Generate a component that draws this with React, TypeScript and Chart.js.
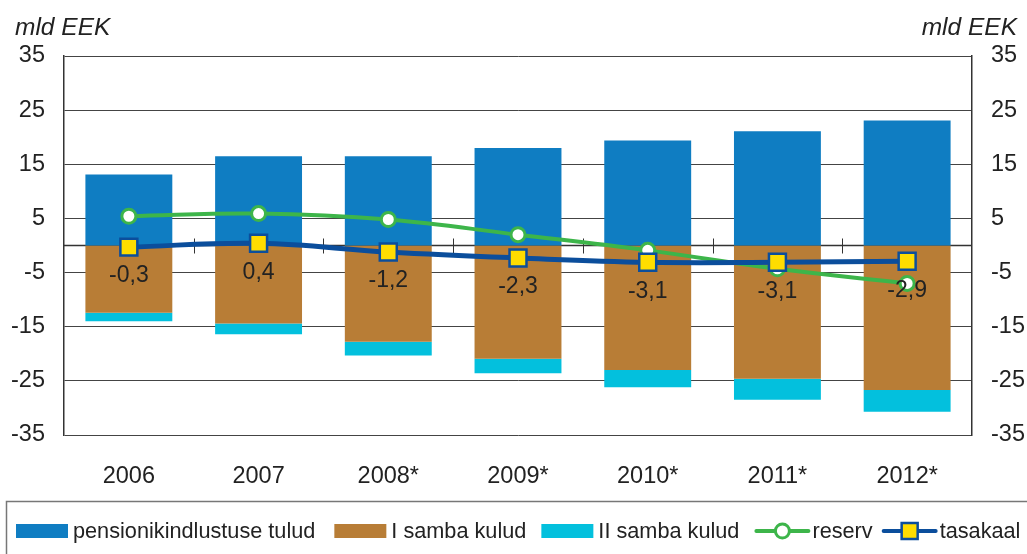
import { useEffect, useRef } from "react";
import { Chart, registerables } from "chart.js";

Chart.register(...registerables);

// ---- data ----
const categories = ["2006", "2007", "2008*", "2009*", "2010*", "2011*", "2012*"];
const revenue = [13.1, 16.5, 16.5, 18.0, 19.4, 21.1, 23.1];
const pillarOneCosts = [-12.4, -14.4, -17.8, -20.9, -23.0, -24.6, -26.7];
const pillarTwoCosts = [-1.6, -2.0, -2.5, -2.7, -3.2, -3.9, -4.0];
const reserve = [5.4, 5.9, 4.8, 2.0, -0.9, -4.3, -7.0];
const balance = [-0.3, 0.4, -1.2, -2.3, -3.1, -3.1, -2.9];
const seriesNames = ["pensionikindlustuse tulud", "I samba kulud", "II samba kulud", "reserv", "tasakaal"];
const unitLabel = "mld EEK";
const axisMin = -35;
const axisMax = 35;
const axisStep = 10;

const FONT = '"Liberation Sans", Arial, Helvetica, sans-serif';
const C_BLUE = "#0F7DC2";
const C_BROWN = "#B87D36";
const C_CYAN = "#03C0DD";
const C_GREEN = "#3DB54A";
const C_NAVY = "#0B4E9C";
const C_YELLOW = "#FFDD00";

const fmt = (v: number) => v.toFixed(1).replace(".", ",");

const decorPlugin = {
  id: "decor",
  beforeDatasetsDraw(chart: any) {
    const { ctx, chartArea } = chart;
    const y = chart.scales.y;
    const x = chart.scales.x;
    const y0 = y.getPixelForValue(0);
    ctx.save();
    ctx.strokeStyle = "#333";
    ctx.lineWidth = 1.5;
    ctx.beginPath();
    ctx.moveTo(chartArea.left, y0);
    ctx.lineTo(chartArea.right, y0);
    ctx.stroke();
    ctx.lineWidth = 1;
    for (let i = 1; i < categories.length; i++) {
      const px = Math.round((x.getPixelForValue(i - 1) + x.getPixelForValue(i)) / 2) + 0.5;
      ctx.beginPath();
      ctx.moveTo(px, y0 - 7);
      ctx.lineTo(px, y0 + 8);
      ctx.stroke();
    }
    ctx.restore();
  },
  afterDatasetsDraw(chart: any) {
    const { ctx } = chart;
    const idx = chart.data.datasets.findIndex((d: any) => d.label === seriesNames[4]);
    const meta = chart.getDatasetMeta(idx);
    ctx.save();
    ctx.font = `23px ${FONT}`;
    ctx.fillStyle = "#222";
    ctx.textAlign = "center";
    ctx.textBaseline = "middle";
    meta.data.forEach((pt: any, i: number) => {
      ctx.fillText(fmt(balance[i]), pt.x, pt.y + 29);
    });
    ctx.restore();
  },
  afterDraw(chart: any) {
    const { ctx, width, height } = chart;
    ctx.save();
    // unit titles
    ctx.font = `italic 24.5px ${FONT}`;
    ctx.fillStyle = "#222";
    ctx.textBaseline = "alphabetic";
    ctx.textAlign = "left";
    ctx.fillText(unitLabel, 15, 35);
    ctx.textAlign = "right";
    ctx.fillText(unitLabel, width - 10, 35);

    // legend frame
    const top = height - 53;
    ctx.strokeStyle = "#777";
    ctx.lineWidth = 1.5;
    ctx.strokeRect(6.5, top + 0.5, width + 20, 100);

    const cy = top + 30;
    ctx.font = `21.7px ${FONT}`;
    ctx.textAlign = "left";
    ctx.textBaseline = "middle";
    const items = [
      { kind: "bar", color: C_BLUE, gap: 19 },
      { kind: "bar", color: C_BROWN, gap: 15 },
      { kind: "bar", color: C_CYAN, gap: 15 },
      { kind: "circle", color: C_GREEN, gap: 9 },
      { kind: "square", color: C_NAVY, gap: 0 },
    ];
    let x = 16;
    items.forEach((it, i) => {
      if (it.kind === "bar") {
        ctx.fillStyle = it.color;
        ctx.fillRect(x, cy - 7, 52, 14);
        x += 57;
      } else {
        ctx.strokeStyle = it.color;
        ctx.lineWidth = 4;
        ctx.lineCap = "round";
        ctx.beginPath();
        ctx.moveTo(x + 2, cy);
        ctx.lineTo(x + 54, cy);
        ctx.stroke();
        const mx = x + 28;
        if (it.kind === "circle") {
          ctx.fillStyle = "#fff";
          ctx.lineWidth = 3;
          ctx.beginPath();
          ctx.arc(mx, cy, 7, 0, Math.PI * 2);
          ctx.fill();
          ctx.stroke();
        } else {
          ctx.fillStyle = C_YELLOW;
          ctx.lineWidth = 2.5;
          ctx.fillRect(mx - 8, cy - 8, 16, 16);
          ctx.strokeRect(mx - 8, cy - 8, 16, 16);
        }
        x += 58;
      }
      ctx.fillStyle = "#222";
      ctx.fillText(seriesNames[i], x, cy + 1);
      x += ctx.measureText(seriesNames[i]).width + it.gap;
    });
    ctx.restore();
  },
};

export default function App() {
  const ref = useRef<HTMLCanvasElement | null>(null);

  useEffect(() => {
    document.body.style.margin = "0";
    if (!ref.current) return;
    const tickFont = { family: FONT, size: 23.5 };
    const chart = new Chart(ref.current, {
      type: "bar",
      data: {
        labels: categories,
        datasets: [
          {
            type: "line",
            label: seriesNames[4],
            data: balance,
            borderColor: C_NAVY,
            borderWidth: 5,
            tension: 0.4,
            pointStyle: "rect",
            pointRadius: 12,
            pointBackgroundColor: C_YELLOW,
            pointBorderColor: C_NAVY,
            pointBorderWidth: 2.5,
            stack: "s-balance",
            order: 0,
          } as any,
          {
            type: "line",
            label: seriesNames[3],
            data: reserve,
            borderColor: C_GREEN,
            borderWidth: 4,
            tension: 0.4,
            pointStyle: "circle",
            pointRadius: 7,
            pointBackgroundColor: "#fff",
            pointBorderColor: C_GREEN,
            pointBorderWidth: 3,
            stack: "s-reserve",
            order: 1,
          } as any,
          {
            label: seriesNames[0],
            data: revenue,
            backgroundColor: C_BLUE,
            stack: "bars",
            order: 2,
          },
          {
            label: seriesNames[1],
            data: pillarOneCosts,
            backgroundColor: C_BROWN,
            stack: "bars",
            order: 2,
          },
          {
            label: seriesNames[2],
            data: pillarTwoCosts,
            backgroundColor: C_CYAN,
            stack: "bars",
            order: 2,
          },
        ],
      },
      options: {
        responsive: false,
        maintainAspectRatio: false,
        animation: false,
        datasets: { bar: { categoryPercentage: 1, barPercentage: 0.67 } },
        layout: { padding: { top: 56, bottom: 66, left: 0, right: 0 } },
        plugins: { legend: { display: false }, tooltip: { enabled: false } },
        scales: {
          x: {
            stacked: true,
            grid: { display: false, drawTicks: false },
            border: { display: false },
            ticks: { color: "#222", font: tickFont, padding: 27, maxRotation: 0 },
            afterFit: (s: any) => {
              s.height = 53;
            },
          },
          y: {
            stacked: true,
            position: "left",
            min: axisMin,
            max: axisMax,
            grid: { color: "#444", lineWidth: 1, drawTicks: false },
            border: { display: true, color: "#333", width: 1.5 },
            ticks: { stepSize: axisStep, color: "#222", font: tickFont, padding: 19 },
            afterFit: (s: any) => {
              s.width = 64;
            },
          },
          y2: {
            position: "right",
            min: axisMin,
            max: axisMax,
            grid: { display: false, drawTicks: false },
            border: { display: true, color: "#333", width: 1.5 },
            ticks: { stepSize: axisStep, color: "#222", font: tickFont, padding: 19 },
            afterFit: (s: any) => {
              s.width = 55;
            },
          },
        },
      } as any,
      plugins: [decorPlugin],
    });
    return () => chart.destroy();
  }, []);

  return (
    <div style={{ width: 1027, height: 554, overflow: "hidden", background: "#fff" }}>
      <canvas ref={ref} width={1027} height={554} style={{ display: "block" }} />
    </div>
  );
}
